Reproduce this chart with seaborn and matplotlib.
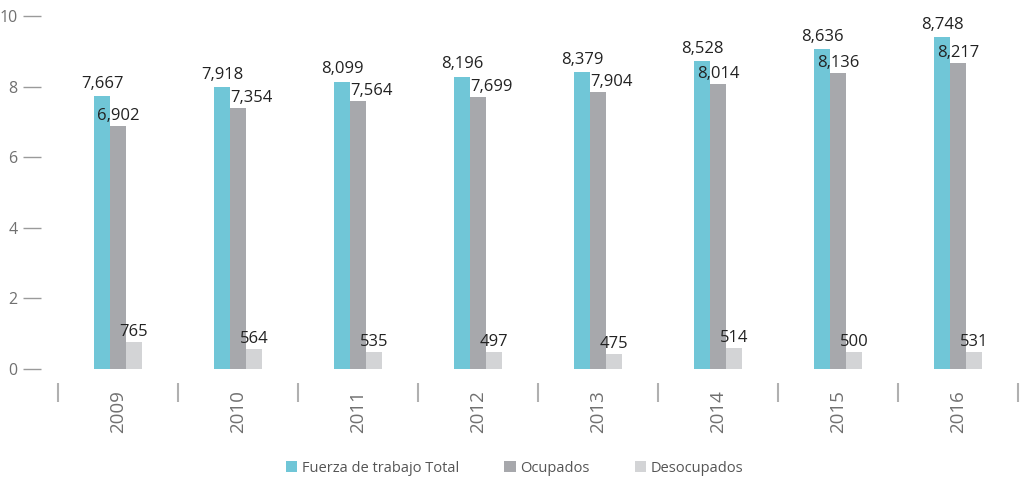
import matplotlib
matplotlib.use('Agg')
import matplotlib.pyplot as plt
import numpy as np
import pandas as pd
import seaborn as sns

years = ['2009', '2010', '2011', '2012', '2013', '2014', '2015', '2016']
series = ['Fuerza de trabajo Total', 'Ocupados', 'Desocupados']

# bar heights as drawn in the reference (miles, en escala 0-10)
fuerza = [7.74, 7.99, 8.14, 8.28, 8.42, 8.73, 9.07, 9.41]
ocupados = [6.89, 7.40, 7.60, 7.71, 7.85, 8.08, 8.39, 8.67]
desocupados = [0.76, 0.56, 0.48, 0.48, 0.42, 0.59, 0.48, 0.48]

# printed labels
fuerza_lbl = ['7,667', '7,918', '8,099', '8,196', '8,379', '8,528', '8,636', '8,748']
ocupados_lbl = ['6,902', '7,354', '7,564', '7,699', '7,904', '8,014', '8,136', '8,217']
desocupados_lbl = ['765', '564', '535', '497', '475', '514', '500', '531']
ocupados_ha = ['center', 'left', 'left', 'left', 'left', 'center', 'center', 'center']

colors = ['#70c6d7', '#a7a8ac', '#d3d4d6']

df = pd.DataFrame({
    'year': years * 3,
    'serie': [series[0]] * 8 + [series[1]] * 8 + [series[2]] * 8,
    'value': fuerza + ocupados + desocupados,
})

sns.set_style('white')
plt.rcParams['font.family'] = ['Open Sans', 'DejaVu Sans']

fig = plt.figure(figsize=(10.23, 4.8), dpi=100)
ax = fig.add_axes([58 / 1023, 111 / 480, 960 / 1023, 367 / 480])

sns.barplot(data=df, x='year', y='value', hue='serie', palette=colors,
            width=0.4, saturation=1, ax=ax, linewidth=0)

ax.set_ylim(0, 10.4)
ax.set_xlim(-0.5, 7.5)
ax.set_xlabel('')
ax.set_ylabel('')

for s in ['top', 'right']:
    ax.spines[s].set_visible(False)
ax.spines['left'].set_position(('outward', 12))
ax.spines['left'].set_visible(False)
ax.spines['bottom'].set_position(('outward', 10))
ax.spines['bottom'].set_visible(False)

ax.set_yticks([0, 2, 4, 6, 8, 10])
ax.tick_params(axis='y', direction='out', length=13, width=1, color='#9a9a9a',
               labelcolor='#707070', labelsize=11.5, pad=4, left=True)
ax.set_xticks(range(len(years)))
ax.set_xticklabels(years, rotation=90)
ax.tick_params(axis='x', which='major', length=0, labelsize=13.5,
               labelcolor='#707070', pad=5)
ax.set_xticks(np.arange(-0.5, 8, 1), minor=True)
ax.tick_params(axis='x', which='minor', direction='out', length=14, width=1.5,
               color='#b0b0b0', bottom=True)

labels = [fuerza_lbl, ocupados_lbl, desocupados_lbl]
offsets = [6, 4, 4.3]
for k, cont in enumerate(ax.containers):
    for i, bar in enumerate(cont.patches):
        h = bar.get_height()
        if k == 1 and ocupados_ha[i] == 'left':
            x = bar.get_x()
            ha = 'left'
        else:
            x = bar.get_x() + bar.get_width() / 2
            ha = 'center'
        ax.annotate(labels[k][i], (x, h), xytext=(0, offsets[k]),
                    textcoords='offset points', ha=ha, va='baseline',
                    fontsize=12, color='#222222')

handles, lbls = ax.get_legend_handles_labels()
ax.get_legend().remove()
fig.legend(handles, lbls, loc='center', bbox_to_anchor=(0.503, 12 / 480),
           ncol=3, frameon=False, fontsize=10.5, labelcolor='#555555',
           handlelength=0.8, handleheight=0.8, handletextpad=0.3,
           columnspacing=3.1)

plt.savefig('out.png', dpi=100)
